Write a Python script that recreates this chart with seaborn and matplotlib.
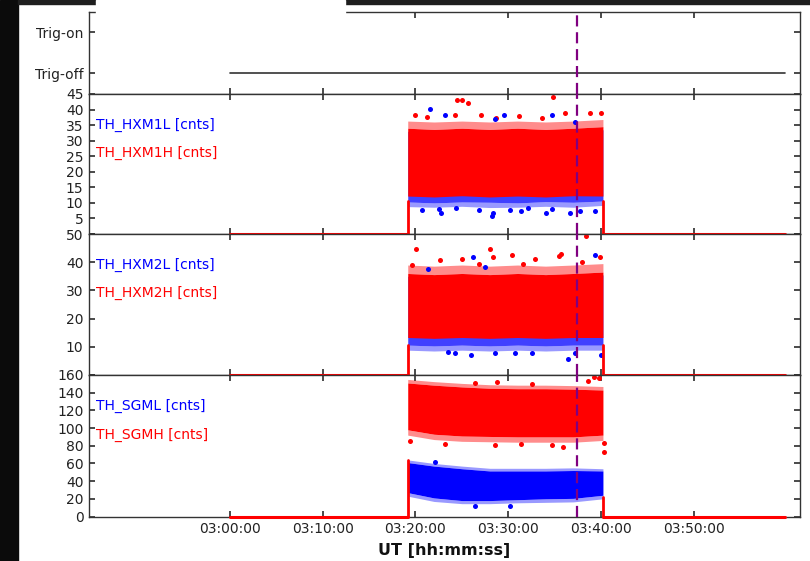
import matplotlib
matplotlib.use("Agg")
import matplotlib.pyplot as plt
import matplotlib.patches as mpatches
import matplotlib.dates as mdates
import pandas as pd
import seaborn as sns

# ---- data ----
day = "2015-01-01 "
t_first = "03:00:00"
t_last = "03:59:48"
t_on = "03:19:10"
t_off = "03:40:11"
t_marker = "03:37:23"
x_range = ["02:44:51", "04:01:24"]
x_ticks = ["03:00:00", "03:10:00", "03:20:00", "03:30:00", "03:40:00", "03:50:00"]

trig_state = [0, 0]
trig_ticks = [0, 1]
trig_labels = ["Trig-off", "Trig-on"]

env_times = ["03:19:10", "03:22:00", "03:25:00", "03:28:00", "03:31:00", "03:34:00", "03:37:00", "03:40:11"]

# TH_HXM1 : dense core and sparse fringe of the point clouds
hxm1l_lo = [10.3, 10.0, 10.3, 10.2, 10.0, 10.4, 10.2, 10.6]
hxm1l_hi = [33.0, 32.6, 33.0, 32.6, 33.0, 32.6, 33.0, 33.5]
hxm1l_edge = [8.8, 8.6, 8.9, 8.5, 8.6, 8.9, 8.6, 9.2]
hxm1h_lo = [12.2, 11.9, 12.3, 11.9, 12.2, 11.9, 12.3, 12.2]
hxm1h_hi = [34.0, 33.6, 34.0, 33.6, 34.0, 33.6, 34.0, 34.5]
hxm1h_edge_hi = [36.3, 36.0, 36.3, 36.0, 36.3, 36.0, 36.3, 36.8]
hxm1h_out_t = ["03:24:30", "03:25:00", "03:25:42", "03:34:48", "03:19:54", "03:24:18", "03:27:06",
               "03:31:06", "03:36:06", "03:38:48", "03:40:00", "03:21:12", "03:28:42", "03:33:36"]
hxm1h_out_v = [43.1, 43.1, 42.0, 44.1, 38.3, 38.3, 38.3, 37.9, 38.8, 38.8, 38.8, 37.7, 37.2, 37.2]
hxm1l_out_t = ["03:21:36", "03:23:12", "03:28:36", "03:29:30", "03:34:42", "03:37:12",
               "03:20:42", "03:22:30", "03:24:24", "03:26:48", "03:28:12", "03:28:18", "03:30:12",
               "03:31:24", "03:34:06", "03:34:42", "03:36:36", "03:37:42", "03:39:18", "03:22:48", "03:32:06"]
hxm1l_out_v = [40.1, 38.3, 36.9, 38.3, 38.3, 36.1,
               7.8, 8.0, 8.3, 7.8, 5.8, 6.9, 7.8, 7.5, 6.9, 8.0, 6.6, 7.5, 7.5, 6.9, 8.2]

# TH_HXM2
hxm2l_lo = [10.6, 10.3, 10.6, 10.3, 10.6, 10.3, 10.6, 10.6]
hxm2l_hi = [35.0, 34.6, 35.0, 34.6, 35.0, 34.6, 35.0, 35.5]
hxm2l_edge = [8.8, 8.5, 8.8, 8.5, 8.8, 8.5, 8.8, 8.8]
hxm2h_lo = [13.3, 13.0, 13.3, 13.0, 13.3, 13.0, 13.3, 13.3]
hxm2h_hi = [36.0, 35.6, 36.0, 35.6, 36.0, 35.6, 36.0, 36.5]
hxm2h_edge_hi = [39.0, 38.6, 39.0, 38.6, 39.0, 38.6, 39.0, 39.5]
hxm2h_out_t = ["03:20:06", "03:28:00", "03:38:24", "03:19:36", "03:22:36", "03:25:00", "03:28:24",
               "03:30:24", "03:32:54", "03:35:24", "03:35:42", "03:37:54", "03:39:54", "03:26:48", "03:31:36"]
hxm2h_out_v = [44.8, 44.8, 49.3, 38.9, 40.7, 41.2, 41.8, 42.4, 41.2, 42.2, 43.0, 40.1, 41.8, 39.5, 39.5]
hxm2l_out_t = ["03:26:12", "03:39:18", "03:21:24", "03:27:30",
               "03:24:18", "03:26:00", "03:28:36", "03:30:42", "03:32:30", "03:36:24", "03:37:12",
               "03:40:00", "03:23:30"]
hxm2l_out_v = [41.8, 42.7, 37.7, 38.3, 7.7, 7.0, 7.7, 7.9, 7.7, 5.8, 7.9, 7.0, 8.2]

# TH_SGM
sgml_lo = [27, 21, 18, 18, 19, 20, 20.5, 24]
sgml_hi = [61, 57, 54, 51.5, 51.5, 51.5, 52, 51.5]
sgml_edge = [23, 17, 14.5, 14.5, 15.5, 16, 16.5, 20]
sgml_edge_hi = [64, 60, 57, 54.5, 54.5, 54.5, 55, 54]
sgmh_lo = [98, 93, 91, 90.5, 90, 90, 90, 92]
sgmh_hi = [151, 148.5, 146.5, 145, 144.5, 144.5, 144, 143]
sgmh_edge_lo = [92, 87, 85, 84.5, 84, 84, 84, 86]
sgmh_edge_hi = [155, 152.5, 150.5, 149, 148.5, 148.5, 148, 147]
sgmh_out_t = ["03:19:24", "03:35:54", "03:40:18", "03:40:18", "03:28:48", "03:38:36", "03:39:12",
              "03:39:48", "03:26:24", "03:32:30", "03:23:12", "03:28:36", "03:34:42", "03:31:24"]
sgmh_out_v = [85.3, 78.9, 82.6, 73.2, 152.1, 152.9, 157.7, 156.6, 150.4, 149.6, 82.5, 80.6, 80.6, 82.5]
sgml_out_t = ["03:22:06", "03:26:24", "03:30:12"]
sgml_out_v = [62.0, 12.2, 12.2]

# height reached by the red edge samples at switch-on / switch-off
rise_on = [10.5, 10.5, 64]
rise_off = [10.5, 10.5, 22]

names_l = ["TH_HXM1L [cnts]", "TH_HXM2L [cnts]", "TH_SGML [cnts]"]
names_h = ["TH_HXM1H [cnts]", "TH_HXM2H [cnts]", "TH_SGMH [cnts]"]
y_ticks = [list(range(0, 50, 5)), list(range(0, 60, 10)), list(range(0, 180, 20))]
y_labels = [[""] + [str(v) for v in range(5, 50, 5)],
            [""] + [str(v) for v in range(10, 60, 10)],
            [str(v) for v in range(0, 180, 20)]]
y_lims = [(0, 45), (0, 50), (0, 160)]

cores_l = [(hxm1l_lo, hxm1l_hi), (hxm2l_lo, hxm2l_hi), (sgml_lo, sgml_hi)]
cores_h = [(hxm1h_lo, hxm1h_hi), (hxm2h_lo, hxm2h_hi), (sgmh_lo, sgmh_hi)]
edges_l = [[(hxm1l_edge, hxm1l_lo)], [(hxm2l_edge, hxm2l_lo)],
           [(sgml_edge, sgml_lo), (sgml_hi, sgml_edge_hi)]]
edges_h = [[(hxm1h_hi, hxm1h_edge_hi)],
           [(hxm2h_hi, hxm2h_edge_hi)],
           [(sgmh_edge_lo, sgmh_lo), (sgmh_hi, sgmh_edge_hi)]]
outs_l = [(hxm1l_out_t, hxm1l_out_v), (hxm2l_out_t, hxm2l_out_v), (sgml_out_t, sgml_out_v)]
outs_h = [(hxm1h_out_t, hxm1h_out_v), (hxm2h_out_t, hxm2h_out_v), (sgmh_out_t, sgmh_out_v)]
core_alpha_l = [0.75, 0.75, 1.0]


def ts(clock):
    return pd.to_datetime([day + c for c in clock])


BLUE = "#0000ff"
RED = "#ff0000"
INK = "#333333"

sns.set_theme(style="ticks")
plt.rcParams["font.family"] = ["DejaVu Sans"]
plt.rcParams.update({
    "font.size": 10,
    "axes.edgecolor": INK,
    "axes.linewidth": 1.0,
    "xtick.color": INK,
    "ytick.color": INK,
    "xtick.labelcolor": "#222222",
    "ytick.labelcolor": "#222222",
    "xtick.direction": "in",
    "ytick.direction": "in",
    "xtick.major.size": 4,
    "ytick.major.size": 4,
    "xtick.labelsize": 10,
    "ytick.labelsize": 10,
})

fig = plt.figure(figsize=(8.1, 5.61), dpi=100, facecolor="white")
gs = fig.add_gridspec(4, 1, height_ratios=[82, 140, 141, 141.5], hspace=0,
                      left=89 / 810, right=800 / 810, top=1 - 12 / 561, bottom=1 - 516.5 / 561)
axes = [fig.add_subplot(gs[0])]
for i in range(1, 4):
    axes.append(fig.add_subplot(gs[i], sharex=axes[0]))

# top panel: trigger state
ax = axes[0]
sns.lineplot(x=ts([t_first, t_last]), y=trig_state, ax=ax, color=INK, lw=1.2, estimator=None)
ax.set_ylim(-0.5, 1.5)
ax.set_yticks(trig_ticks)
ax.set_yticklabels(trig_labels)

for k in range(3):
    ax = axes[k + 1]
    base_pre = ts([t_first, t_on])
    base_post = ts([t_off, t_last])
    env = ts(env_times)

    # blue (L) series: dense core, thinner fringe, stray samples
    ax.fill_between(env, cores_l[k][0], cores_l[k][1], color=BLUE, alpha=core_alpha_l[k],
                    lw=0, zorder=2)
    for lo, hi in edges_l[k]:
        ax.fill_between(env, lo, hi, color=BLUE, alpha=0.4, lw=0, zorder=2)
    # red (H) series
    ax.fill_between(env, cores_h[k][0], cores_h[k][1], color=RED, lw=0, zorder=3)
    for lo, hi in edges_h[k]:
        ax.fill_between(env, lo, hi, color=RED, alpha=0.45, lw=0, zorder=3)
    sns.scatterplot(x=ts(outs_h[k][0]), y=outs_h[k][1], ax=ax, color=RED, s=13,
                    linewidth=0, zorder=4, legend=False)
    sns.scatterplot(x=ts(outs_l[k][0]), y=outs_l[k][1], ax=ax, color=BLUE, s=13,
                    linewidth=0, zorder=4, legend=False)
    for seg in (base_pre, base_post):
        sns.lineplot(x=seg, y=[0, 0], ax=ax, color=RED, lw=2.2, estimator=None,
                     clip_on=False, zorder=5)
    sns.lineplot(x=ts([t_on, t_on]), y=[0, rise_on[k]], ax=ax, color=RED, lw=2,
                 estimator=None, sort=False, zorder=5)
    sns.lineplot(x=ts([t_off, t_off]), y=[0, rise_off[k]], ax=ax, color=RED, lw=2,
                 estimator=None, sort=False, zorder=5)

    ax.set_ylim(*y_lims[k])
    ax.set_yticks(y_ticks[k])
    ax.set_yticklabels(y_labels[k])
    ax.text(0.0098, 0.78, names_l[k], color=BLUE, transform=ax.transAxes, va="center", fontsize=10)
    ax.text(0.0098, 0.58, names_h[k], color=RED, transform=ax.transAxes, va="center", fontsize=10)

for ax in axes:
    ax.axvline(ts([t_marker])[0], color="#800080", lw=1.6, dashes=(5, 2.6), zorder=6)
    ax.set_xlabel("")
    ax.set_ylabel("")
    ax.tick_params(top=True, right=True, pad=4)
    for s in ax.spines.values():
        s.set_visible(True)
        s.set_zorder(4.5)

axes[0].set_xlim(ts(x_range)[0], ts(x_range)[1])
axes[-1].set_xticks(ts(x_ticks))
axes[-1].xaxis.set_major_formatter(mdates.DateFormatter("%H:%M:%S"))
for ax in axes[:-1]:
    ax.tick_params(labelbottom=False)
axes[-1].set_xlabel("UT [hh:mm:ss]", fontsize=11.5, fontweight="bold", color="#111111", labelpad=5)

# screenshot frame around the figure
fig.patches.append(mpatches.Rectangle((0, 0), 18 / 810, 1, transform=fig.transFigure,
                                      color="#0b0b0b", zorder=10))
fig.patches.append(mpatches.Rectangle((18 / 810, 1 - 3.5 / 561), 1, 3.5 / 561,
                                      transform=fig.transFigure, color="#1e1e1e", zorder=10))
fig.patches.append(mpatches.Rectangle((96 / 810, 1 - 17.5 / 561), (345 - 96) / 810, 17.5 / 561,
                                      transform=fig.transFigure, color="white", zorder=11))

fig.savefig("out.png", dpi=100, facecolor="white")
